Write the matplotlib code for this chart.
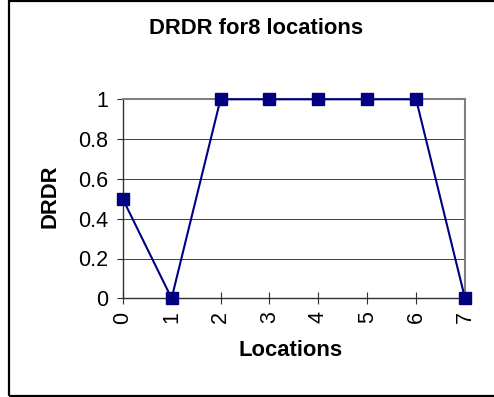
import matplotlib
matplotlib.use("Agg")
import matplotlib.pyplot as plt
from matplotlib.patches import Rectangle

locations = [0, 1, 2, 3, 4, 5, 6, 7]
drdr = [0.5, 0, 1, 1, 1, 1, 1, 0]
y_ticks = [0, 0.2, 0.4, 0.6, 0.8, 1]
y_tick_labels = ["0", "0.2", "0.4", "0.6", "0.8", "1"]

plt.rcParams["font.family"] = ["Liberation Sans", "DejaVu Sans"]

W, H = 494, 397
fig = plt.figure(figsize=(W / 100, H / 100), dpi=100)
fig.patch.set_facecolor("white")

# chart frame, open on the right
fig.patches.append(Rectangle((9 / W, 1 / H), 1.2, 395 / H, transform=fig.transFigure,
                             fill=False, edgecolor="black", linewidth=1.6))

ax = fig.add_axes([122.7 / W, 98.7 / H, (465 - 122.7) / W, 199 / H])
ax.plot(locations, drdr, color="#000080", linewidth=1.5, marker="s",
        markersize=9, markerfacecolor="#000080", markeredgecolor="#000080",
        clip_on=False, zorder=5)

ax.set_xlim(0, 7)
ax.set_ylim(0, 1)
ax.set_yticks(y_ticks)
ax.set_yticklabels(y_tick_labels)
ax.set_xticks(locations)
ax.set_xticklabels([str(x) for x in locations], rotation=90)

ax.yaxis.grid(True, color="#404040", linewidth=0.7)
ax.set_axisbelow(True)

for side in ["top", "right"]:
    ax.spines[side].set_color("#808080")
    ax.spines[side].set_linewidth(1.5)
for side in ["left", "bottom"]:
    ax.spines[side].set_color("#303030")
    ax.spines[side].set_linewidth(1.0)

ax.tick_params(axis="y", direction="out", length=4.5, width=0.8,
               color="#303030", labelsize=15.5, pad=6)
ax.tick_params(axis="x", direction="inout", length=9, width=0.8,
               color="#303030", labelsize=15.5, pad=5)

fig.text(256 / W, 1 - 29 / H, "DRDR for8 locations", ha="center", va="center",
         fontsize=15.8, fontweight="bold")
fig.text(50 / W, 1 - 196 / H, "DRDR", ha="center", va="center", rotation=90,
         fontsize=15.8, fontweight="bold")
fig.text(291 / W, 1 - 350 / H, "Locations", ha="center", va="center",
         fontsize=15.8, fontweight="bold")

fig.savefig("out.png", dpi=100)
